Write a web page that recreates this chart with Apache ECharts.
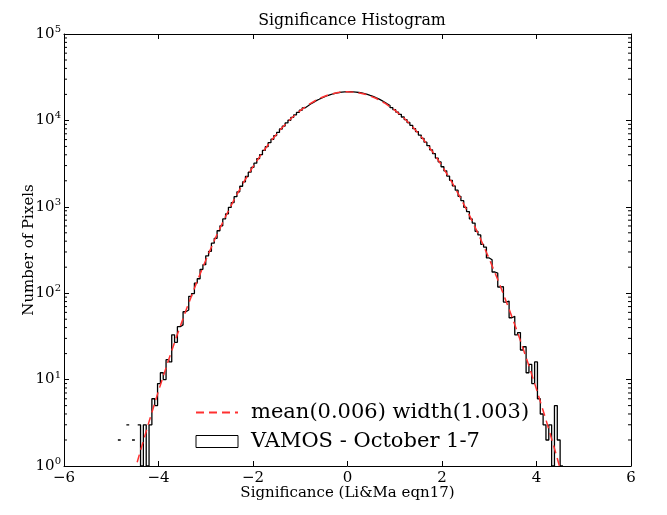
<!DOCTYPE html>
<html><head><meta charset="utf-8">
<script src="https://cdn.jsdelivr.net/npm/echarts@6/dist/echarts.min.js"></script>
<style>html,body{margin:0;padding:0;background:#fff}#c{width:667px;height:515px}</style>
</head><body><div id="c"></div>
<script>
// Histogram: bins of width 0.06 starting at -4.86 (0 = empty bin)
const binStart = -4.86;
const binWidth = 0.06;
const counts = [
  2,0,0,3,0,2,0,
  3,1,3,1,3,6,5,9,12,10,
  17,16,33,27,41,43,61,64,92,99,
  131,147,189,214,271,305,379,432,528,603,
  724,829,985,1119,1311,1489,1729,1948,2241,2519,
  2866,3198,3618,4015,4497,4962,5519,6048,6671,7266,
  7951,8603,9344,10041,10826,11561,12365,13110,13927,14664,
  15460,16165,16918,17567,18251,18817,19408,19871,20346,20684,
  21027,21224,21419,21470,
  21512,21408,21297,21041,20786,20385,19987,19459,18968,18339,
  17736,17021,16345,15572,14851,14047,13305,12486,11746,10944,
  10224,9454,8774,8052,7426,6766,6194,5594,5095,4564,
  4133,3668,3305,2907,2607,2266,2026,1746,1557,1322,
  1178,986,881,723,648,520,473,368,342,256,
  244,176,171,118,119,79,81,52,54,33,
  35,22,24,12,15,9,16,6,4,3,
  2,3,1,5,2,1
];
// Gaussian fit curve (red dashed), read at 0.2 steps
const fitX = [-4.6,-4.4,-4.2,-4.0,-3.8,-3.6,-3.4,-3.2,-3.0,-2.8,-2.6,-2.4,-2.2,-2.0,-1.8,-1.6,-1.4,-1.2,-1.0,-0.8,-0.6,-0.4,-0.2,0.0,
              0.2,0.4,0.6,0.8,1.0,1.2,1.4,1.6,1.8,2.0,2.2,2.4,2.6,2.8,3.0,3.2,3.4,3.6,3.8,4.0,4.2,4.4,4.6];
const fitY = [0.566,1.387,3.264,7.39,16.05,33.5,67.3,129.9,241.0,429.4,735.3,1210,1914,2909,4251,5967,8049,10434,12997,15564,17912,19810,21051,21500,
              21102,19904,18040,15713,13153,10585,8184,6082,4342,2979,1965,1245,758.4,443.9,249.8,135.0,70.15,35.02,16.80,7.748,3.432,1.462,0.598];
const xTicks = [-6,-4,-2,0,2,4,6];
const yMinorTicks = [2,3,4,5,6,7,8,9,20,30,40,50,60,70,80,90,200,300,400,500,600,700,800,900,
  2000,3000,4000,5000,6000,7000,8000,9000,20000,30000,40000,50000,60000,70000,80000,90000];
const fitName = 'mean(0.006) width(1.003)';
const histName = 'VAMOS - October 1-7';

// build step outline (empty bins break the line)
const histPath = [];
let prev = 0;
counts.forEach((c, i) => {
  const l = Math.round((binStart + i * binWidth) * 1000) / 1000;
  const r = Math.round((l + binWidth) * 1000) / 1000;
  if (c > 0) {
    if (prev === 0 && histPath.length) histPath.push([l, null]);
    histPath.push([l, c], [r, c]);
  }
  prev = c;
});
const fitData = fitX.map((x, i) => [x, fitY[i]]);

const FONT = 'DejaVu Serif';
const TITLE_FONT = "'DejaVu Serif Condensed', 'Liberation Serif', serif";
const minus = v => (v < 0 ? '\u2212' + Math.abs(v) : '' + v);
const axisLineStyle = { show: true, onZero: false, lineStyle: { color: '#000', width: 1 } };
const tickStyle = { show: true, inside: true, length: 5, lineStyle: { color: '#000' } };
const chart = echarts.init(document.getElementById('c'));
chart.setOption({
  animation: false,
  backgroundColor: '#fff',
  title: {
    text: 'Significance Histogram', left: 347, top: 6, textAlign: 'center',
    textStyle: { fontFamily: TITLE_FONT, fontSize: 17.5, fontWeight: 'normal', color: '#000' }
  },
  grid: { left: 64, right: 36, top: 34, bottom: 49 },
  legend: {
    orient: 'vertical', left: 190, top: 397, itemWidth: 42, itemHeight: 12, itemGap: 8,
    selectedMode: false,
    textStyle: { fontFamily: FONT, fontSize: 21, color: '#000', padding: [0, 0, 0, 8] },
    data: [
      { name: fitName, itemStyle: { color: 'rgba(0,0,0,0)', borderColor: 'rgba(0,0,0,0)', borderWidth: 0 } },
      { name: histName, icon: 'rect', itemStyle: { color: '#fff', borderColor: '#000', borderWidth: 1 } }
    ]
  },
  xAxis: [
    {
      type: 'value', min: -6, max: 6, interval: 2, position: 'bottom',
      name: 'Significance (Li&Ma eqn17)', nameLocation: 'middle', nameGap: 20, nameMoveOverlap: false,
      nameTextStyle: { fontFamily: FONT, fontSize: 15, color: '#000' },
      axisLine: axisLineStyle, axisTick: tickStyle,
      axisLabel: { fontFamily: FONT, fontSize: 15, color: '#000', margin: 5, formatter: minus },
      splitLine: { show: false }
    },
    {
      type: 'value', min: -6, max: 6, interval: 2, position: 'top',
      axisLine: axisLineStyle, axisTick: tickStyle,
      axisLabel: { show: false }, splitLine: { show: false }
    }
  ],
  yAxis: [
    {
      type: 'log', logBase: 10, min: 1, max: 100000, position: 'left',
      name: 'Number of Pixels', nameLocation: 'middle', nameGap: 27, nameRotate: 90, nameMoveOverlap: false,
      nameTextStyle: { fontFamily: FONT, fontSize: 15, color: '#000' },
      axisLine: axisLineStyle, axisTick: tickStyle,
      axisLabel: {
        margin: 3, color: '#000',
        formatter: v => '{b|10}{s|' + Math.round(Math.log10(v)) + '}',
        rich: {
          b: { fontFamily: FONT, fontSize: 15, color: '#000' },
          s: { fontFamily: FONT, fontSize: 10, color: '#000', padding: [0, 0, 9, 0] }
        }
      },
      splitLine: { show: false }
    },
    {
      type: 'log', logBase: 10, min: 1, max: 100000, position: 'right',
      axisLine: axisLineStyle, axisTick: tickStyle,
      axisLabel: { show: false }, splitLine: { show: false }
    }
  ],
  series: [
    {
      name: histName, type: 'line', data: histPath, symbol: 'none', connectNulls: false,
      lineStyle: { color: '#000', width: 1.3 }, itemStyle: { color: '#000' }, z: 2
    },
    {
      name: fitName, type: 'line', data: fitData, symbol: 'none',
      lineStyle: { color: '#ff3030', width: 1.5, type: [8, 5] }, itemStyle: { color: '#ff3030' }, z: 3
    },
    {
      type: 'custom', name: 'minorTicks', silent: true, clip: false,
      data: yMinorTicks.map(v => [-6, v]),
      renderItem: (params, api) => {
        const v = api.value(1);
        const pl = api.coord([-6, v]);
        const pr = api.coord([6, v]);
        return {
          type: 'group',
          children: [
            { type: 'line', shape: { x1: pl[0], y1: pl[1], x2: pl[0] + 3, y2: pl[1] }, style: { stroke: '#000', lineWidth: 1 } },
            { type: 'line', shape: { x1: pr[0] - 3, y1: pr[1], x2: pr[0], y2: pr[1] }, style: { stroke: '#000', lineWidth: 1 } }
          ]
        };
      }
    }
  ]
});
</script>
</body></html>
